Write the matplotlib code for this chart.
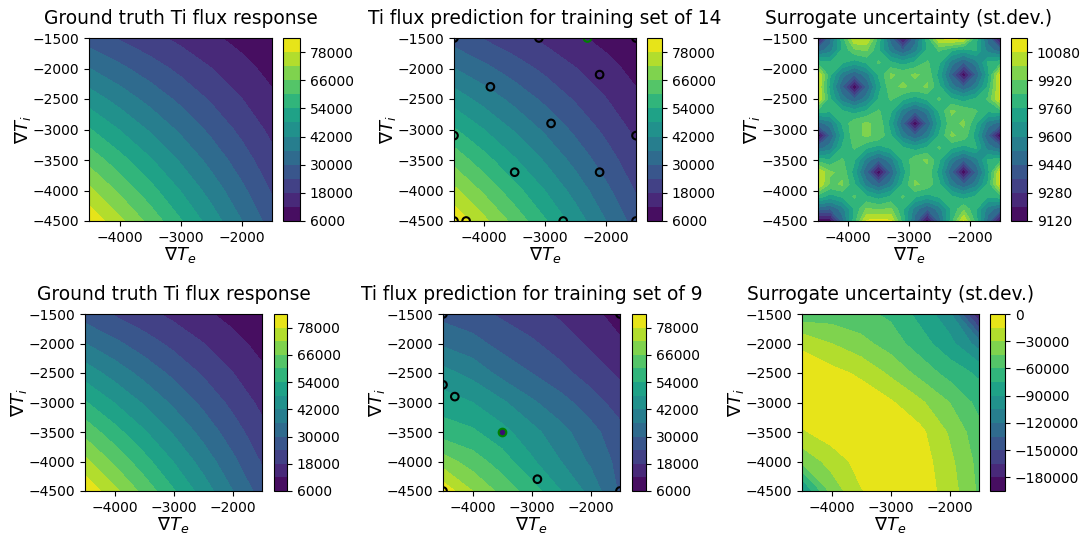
import numpy as np
import matplotlib.pyplot as plt

# coarse grid (x = grad Te, y = grad Ti) for the flux maps
grid_te = [-4500, -4000, -3500, -3000, -2500, -2000, -1500]
grid_ti = [-4500, -4000, -3500, -3000, -2500, -2000, -1500]

# ground truth Ti flux, rows go with grid_ti (bottom row first)
flux_true = [
    [83250, 73530, 63950, 54530, 45250, 36130, 27150],
    [73530, 64800, 56230, 47800, 39530, 31400, 23430],
    [63950, 56230, 48650, 41230, 33950, 26830, 19850],
    [54530, 47800, 41230, 34800, 28530, 22400, 16430],
    [45250, 39530, 33950, 28530, 23250, 18130, 13150],
    [36130, 31400, 26830, 22400, 18130, 14000, 10030],
    [27150, 23430, 19850, 16430, 13150, 10030, 7050],
]

# surrogate mean with 14 training points
flux_pred14 = [
    [83000, 73400, 63900, 54600, 45300, 36100, 27300],
    [73400, 64700, 56200, 47900, 39600, 31500, 23500],
    [63900, 56200, 48600, 41300, 34000, 26900, 19900],
    [54600, 47900, 41300, 34900, 28600, 22500, 16500],
    [45300, 39600, 34000, 28600, 23300, 18200, 13200],
    [36100, 31500, 26900, 22500, 18200, 14100, 10100],
    [27300, 23500, 19900, 16500, 13200, 10100, 7200],
]

# surrogate mean with 9 training points
flux_pred9 = [
    [82000, 72000, 64000, 57000, 48000, 40000, 29000],
    [69000, 63000, 57000, 49000, 42000, 35000, 28000],
    [57000, 55000, 50000, 44000, 38000, 32000, 26000],
    [51000, 48000, 43000, 37000, 32000, 27000, 21000],
    [44000, 40000, 34000, 30000, 26000, 21000, 17000],
    [35000, 32000, 28000, 25000, 21000, 17000, 13000],
    [28000, 26200, 23000, 20000, 17000, 14000, 9000],
]

# "std" map returned with 9 training points
std_pred9 = [
    [-95000, -40000, -16000, -5000, -6000, -22000, -48000],
    [-42000, -24000, -9000, -3000, -7000, -26000, -50000],
    [-17000, -7000, -1000, -4000, -11000, -32000, -55000],
    [-3000, -2000, -5000, -13000, -27000, -45000, -65000],
    [-6000, -10000, -18000, -33000, -50000, -66000, -78000],
    [-18000, -30000, -40000, -52000, -68000, -85000, -112000],
    [-55000, -53000, -56000, -63000, -80000, -100000, -182000],
]

# fine grid for the 14-point uncertainty (step 200)
unc_te = list(range(-4500, -1499, 200))
unc_ti = list(range(-4500, -1499, 200))
std_pred14 = [
    [9130, 9130, 9480, 9800, 10090, 10110, 10090, 9800, 9480, 9130, 9480, 9800, 10090, 9800, 9480, 9130],
    [9480, 9440, 9560, 9770, 9930, 9900, 9930, 9770, 9560, 9440, 9560, 9770, 9900, 9770, 9560, 9480],
    [9800, 9720, 9770, 9850, 9770, 9720, 9770, 9850, 9770, 9720, 9770, 9770, 9720, 9770, 9770, 9800],
    [10090, 9900, 9930, 9770, 9560, 9440, 9560, 9770, 9930, 9900, 9770, 9560, 9440, 9560, 9770, 10090],
    [10090, 9930, 9900, 9720, 9440, 9130, 9440, 9720, 9900, 9900, 9720, 9440, 9130, 9440, 9720, 10090],
    [9800, 9770, 9850, 9770, 9560, 9440, 9560, 9770, 9900, 9930, 9770, 9560, 9440, 9560, 9770, 9800],
    [9480, 9560, 9770, 9850, 9770, 9720, 9770, 9770, 9720, 9770, 9850, 9770, 9720, 9770, 9560, 9480],
    [9130, 9440, 9720, 9900, 9930, 9900, 9770, 9560, 9440, 9560, 9770, 9930, 9900, 9720, 9440, 9130],
    [9480, 9560, 9770, 9900, 9930, 9900, 9720, 9440, 9130, 9440, 9720, 9900, 9930, 9770, 9560, 9480],
    [9800, 9770, 9770, 9720, 9770, 9850, 9770, 9560, 9440, 9560, 9770, 9930, 9900, 9850, 9770, 9800],
    [10090, 9770, 9560, 9440, 9560, 9770, 9850, 9770, 9720, 9770, 9850, 9770, 9720, 9770, 9850, 10090],
    [10090, 9720, 9440, 9130, 9440, 9720, 9900, 9930, 9900, 9930, 9770, 9560, 9440, 9560, 9770, 10100],
    [10090, 9770, 9560, 9440, 9560, 9770, 9930, 9900, 9930, 9900, 9720, 9440, 9130, 9440, 9720, 10090],
    [9800, 9770, 9770, 9720, 9770, 9850, 9770, 9720, 9770, 9850, 9770, 9560, 9440, 9560, 9770, 9800],
    [9480, 9560, 9770, 9900, 9930, 9770, 9560, 9440, 9560, 9770, 9850, 9770, 9720, 9770, 9560, 9480],
    [9130, 9480, 9800, 10090, 10090, 9800, 9480, 9130, 9480, 9800, 10090, 10130, 10090, 9800, 9480, 9130],
]

# training points
train14_te = [-4500, -3100, -1500, -2100, -3900, -2900, -4500, -1500, -3500, -2100, -4500, -4300, -2700, -1500]
train14_ti = [-1500, -1500, -1500, -2100, -2300, -2900, -3100, -3100, -3700, -3700, -4500, -4500, -4500, -4500]
next14 = (-2300, -1500)

train9_te = [-4500, -1500, -4500, -4300, -2900, -4500, -1500]
train9_ti = [-1500, -1500, -2700, -2900, -4300, -4500, -4500]
next9 = (-3500, -3500)

flux_levels = np.arange(6000, 84001, 6000)
unc14_levels = np.arange(9120, 10161, 80)
unc9_levels = np.arange(-195000, 1, 15000)

W, H = 1087, 538
fig = plt.figure(figsize=(W / 100, H / 100), dpi=100)


def box(l, t, r, b):
    return [l / W, 1 - b / H, (r - l) / W, (b - t) / H]


def panel(ax_px, cb_px, xs, ys, z, levels, title):
    ax = fig.add_axes(box(*ax_px))
    cax = fig.add_axes(box(*cb_px))
    cs = ax.contourf(xs, ys, np.array(z), levels=levels, cmap='viridis')
    fig.colorbar(cs, cax=cax)
    ax.set_title(title, fontsize=13.4, pad=10)
    ax.set_xlabel(r'$\nabla T_e$', fontsize=13, labelpad=0)
    ax.set_ylabel(r'$\nabla T_i$', fontsize=13, labelpad=0)
    ax.set_xticks([-4000, -3000, -2000])
    return ax


# top row: 14 training points
panel((89, 38, 272, 221), (283, 38, 300, 221), grid_te, grid_ti, flux_true,
      flux_levels, 'Ground truth Ti flux response')
ax = panel((454, 38, 636, 221), (647, 38, 662, 221), grid_te, grid_ti, flux_pred14,
           flux_levels, 'Ti flux prediction for training set of 14')
ax.scatter(train14_te, train14_ti, s=30, facecolors='none', edgecolors='k', linewidths=1.5)
ax.scatter([next14[0]], [next14[1]], s=30, facecolors='none', edgecolors='green', linewidths=1.5)
panel((818, 38, 1000, 221), (1011, 38, 1027, 221), unc_te, unc_ti, std_pred14,
      unc14_levels, 'Surrogate uncertainty (st.dev.)')

# bottom row: 9 training points
panel((85, 314, 262, 491), (274, 314, 287, 491), grid_te, grid_ti, flux_true,
      flux_levels, 'Ground truth Ti flux response')
ax = panel((443, 314, 620, 491), (632, 314, 646, 491), grid_te, grid_ti, flux_pred9,
           flux_levels, 'Ti flux prediction for training set of 9')
ax.scatter(train9_te, train9_ti, s=30, facecolors='none', edgecolors='k', linewidths=1.5)
ax.scatter([next9[0]], [next9[1]], s=30, facecolors='#3b0f70', edgecolors='green', linewidths=1.5)
panel((802, 314, 979, 491), (990, 314, 1005, 491), grid_te, grid_ti, std_pred9,
      unc9_levels, 'Surrogate uncertainty (st.dev.)')

fig.savefig('out.png', dpi=100)
